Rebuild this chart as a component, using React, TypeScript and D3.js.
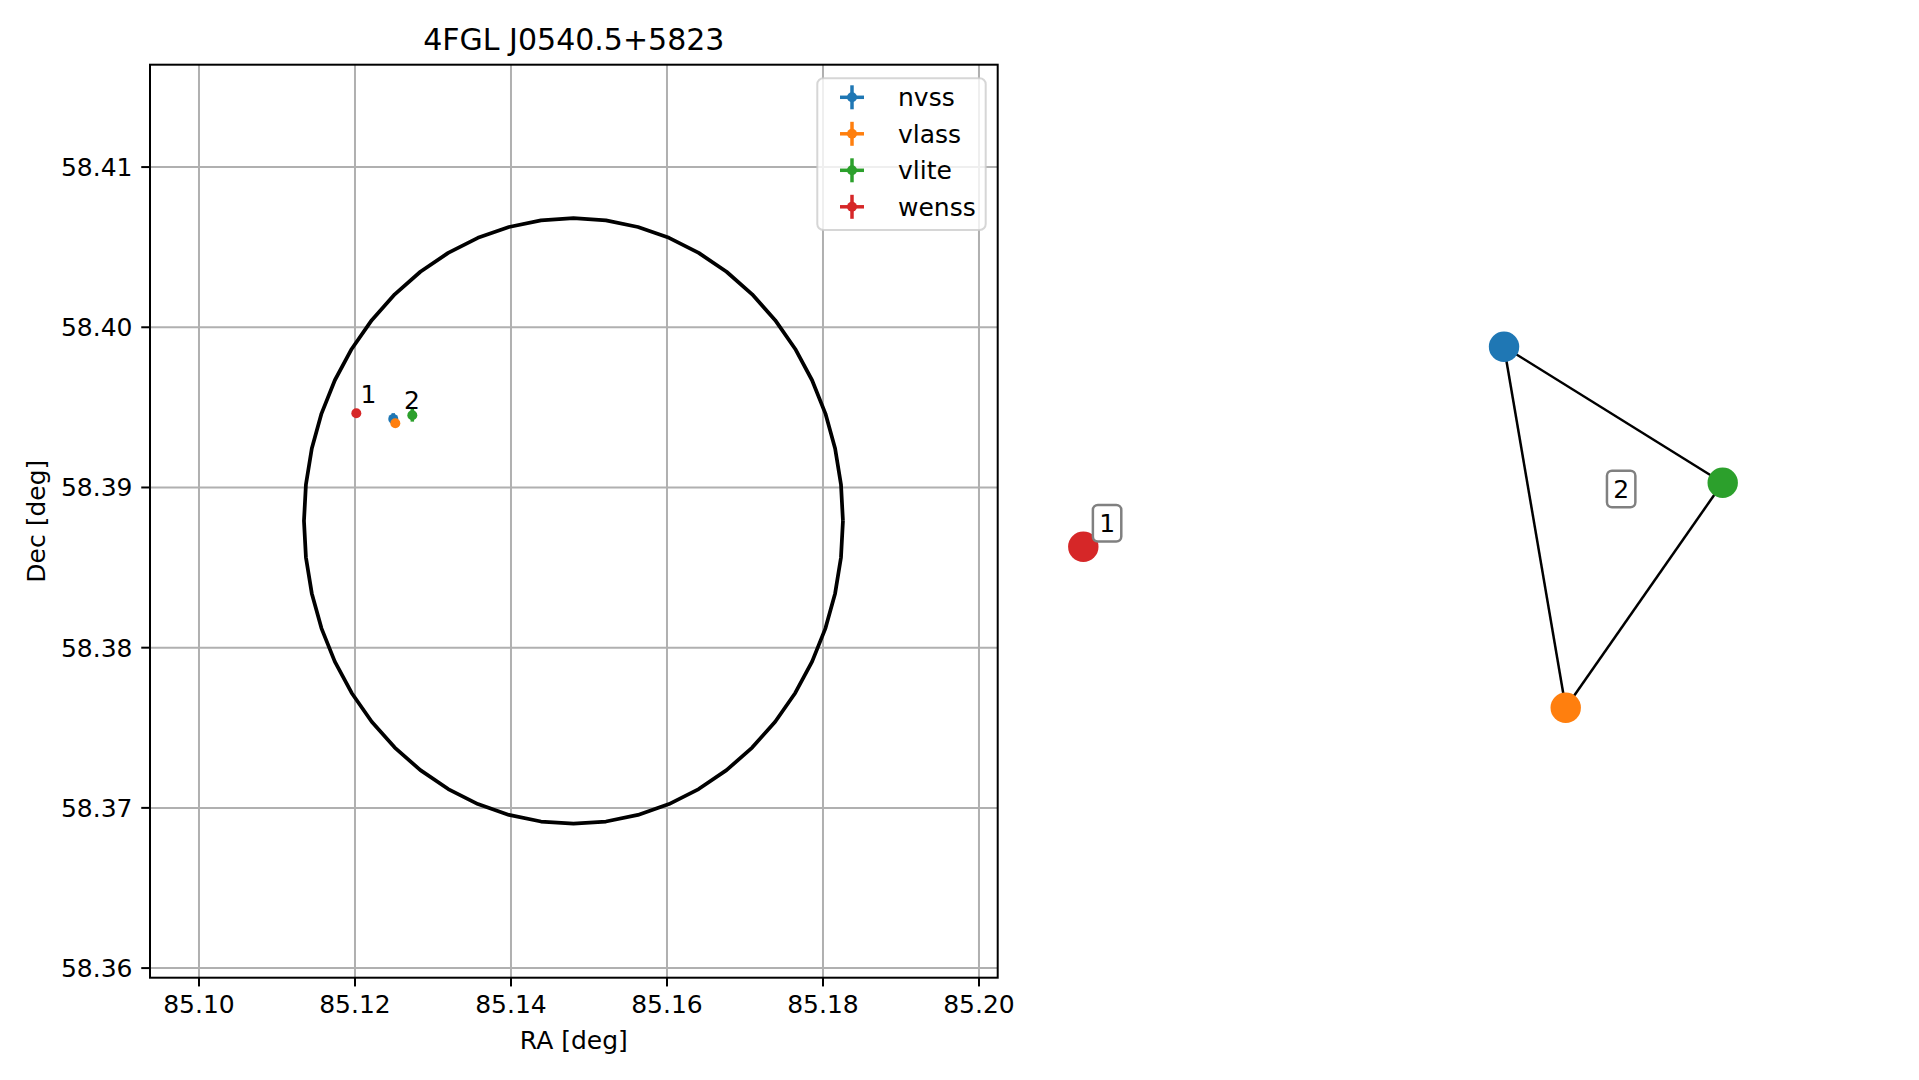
import React from 'react';
import * as d3 from 'd3';

// ---------- data ----------
const TITLE = '4FGL J0540.5+5823';
const X_LABEL = 'RA [deg]';
const Y_LABEL = 'Dec [deg]';

const surveys = ['nvss', 'vlass', 'vlite', 'wenss'];
const surveyColors = ['#1f77b4', '#ff7f0e', '#2ca02c', '#d62728'];
const srcRa = [85.12491, 85.12517, 85.12735, 85.12017];
const srcDec = [58.39428, 58.39401, 58.39451, 58.39463];
const srcRaErr = [0.0004, 0.0001, 0.0005, 0.0003];
const srcDecErr = [0.00036, 0.0001, 0.0004, 0.0002];

const groupLabels = ['1', '2'];
const groupLabelRa = [85.12072, 85.12628];
const groupLabelDec = [58.39529, 58.39487];

const xTicks = [85.1, 85.12, 85.14, 85.16, 85.18, 85.2];
const yTicks = [58.36, 58.37, 58.38, 58.39, 58.4, 58.41];
const xLim = [85.09372, 85.2024];
const yLim = [58.3594, 58.41639];

// uncertainty ellipse parameters
const ellCenterRa = 85.14801;
const ellCenterDec = 58.38791;
const ellSemiRa = 0.03455;
const ellSemiDec = 0.0189;
const ellSegments = 52;

// graph panel (layout coordinates)
const nodeNames = ['wenss', 'nvss', 'vlite', 'vlass'];
const nodeColors = ['#d62728', '#1f77b4', '#2ca02c', '#ff7f0e'];
const nodeX = [0, 0.658, 1, 0.7545];
const nodeY = [0.446, 1, 0.623, 0];
const edgesFrom = [1, 1, 2];
const edgesTo = [2, 3, 3];
const graphLabels = ['1', '2'];
const graphLabelX = [0.0372, 0.8412];
const graphLabelY = [0.511, 0.606];

// ---------- layout ----------
const W = 1919;
const H = 1080;
const AX = { left: 150, right: 997.7, top: 64.7, bottom: 977.7 };
const FONT = 'DejaVu Sans, Verdana, sans-serif';
const FS = 25;

export default function App() {
  const x = d3.scaleLinear().domain(xLim).range([AX.left, AX.right]);
  const y = d3.scaleLinear().domain(yLim).range([AX.bottom, AX.top]);

  const gx = d3.scaleLinear().domain([0, 1]).range([1083.3, 1722.7]);
  const gy = d3.scaleLinear().domain([0, 1]).range([707.7, 346.7]);

  const ellPts: [number, number][] = d3.range(ellSegments + 1).map((i) => {
    const t = (2 * Math.PI * i) / ellSegments;
    return [ellCenterRa + ellSemiRa * Math.cos(t), ellCenterDec + ellSemiDec * Math.sin(t)];
  });
  const line = d3
    .line<[number, number]>()
    .x((d) => x(d[0]))
    .y((d) => y(d[1]));

  const axMidX = (AX.left + AX.right) / 2;
  const axMidY = (AX.top + AX.bottom) / 2;

  const legX = 817.3;
  const legY = 78.3;
  const legW = 168.4;
  const legH = 151.7;
  const rowH = 36.5;
  const firstRow = 97.3;
  const handleX = 852;

  return (
    <svg
      width={W}
      height={H}
      style={{ position: 'absolute', left: 0, top: 0, background: '#fff' }}
      fontFamily={FONT}
    >
      <rect x={0} y={0} width={W} height={H} fill="#fff" />
      {/* grid */}
      <defs>
        <clipPath id="axclip">
          <rect x={AX.left} y={AX.top} width={AX.right - AX.left} height={AX.bottom - AX.top} />
        </clipPath>
      </defs>
      {xTicks.map((t) => (
        <line key={'gx' + t} x1={x(t)} x2={x(t)} y1={AX.top} y2={AX.bottom} stroke="#b0b0b0" strokeWidth={2} />
      ))}
      {yTicks.map((t) => (
        <line key={'gy' + t} x1={AX.left} x2={AX.right} y1={y(t)} y2={y(t)} stroke="#b0b0b0" strokeWidth={2} />
      ))}

      <g clipPath="url(#axclip)">
        <path d={line(ellPts) || ''} fill="none" stroke="#000" strokeWidth={3.75} strokeLinejoin="round" />
        {surveys.map((s, i) => (
          <g key={s}>
            <line
              x1={x(srcRa[i] - srcRaErr[i])}
              x2={x(srcRa[i] + srcRaErr[i])}
              y1={y(srcDec[i])}
              y2={y(srcDec[i])}
              stroke={surveyColors[i]}
              strokeWidth={3.5}
            />
            <line
              x1={x(srcRa[i])}
              x2={x(srcRa[i])}
              y1={y(srcDec[i] - srcDecErr[i])}
              y2={y(srcDec[i] + srcDecErr[i])}
              stroke={surveyColors[i]}
              strokeWidth={3.5}
            />
            <circle cx={x(srcRa[i])} cy={y(srcDec[i])} r={5} fill={surveyColors[i]} />
          </g>
        ))}
        {groupLabels.map((l, i) => (
          <text key={'gl' + l} x={x(groupLabelRa[i])} y={y(groupLabelDec[i])} fontSize={FS} fill="#000">
            {l}
          </text>
        ))}
      </g>

      {/* spines */}
      <rect
        x={AX.left}
        y={AX.top}
        width={AX.right - AX.left}
        height={AX.bottom - AX.top}
        fill="none"
        stroke="#000"
        strokeWidth={2}
      />

      {/* ticks */}
      {xTicks.map((t) => (
        <g key={'tx' + t}>
          <line x1={x(t)} x2={x(t)} y1={AX.bottom} y2={AX.bottom + 8.75} stroke="#000" strokeWidth={2} />
          <text x={x(t)} y={1013.3} textAnchor="middle" fontSize={FS} fill="#000">
            {t.toFixed(2)}
          </text>
        </g>
      ))}
      {yTicks.map((t) => (
        <g key={'ty' + t}>
          <line x1={AX.left - 8.75} x2={AX.left} y1={y(t)} y2={y(t)} stroke="#000" strokeWidth={2} />
          <text x={132.5} y={y(t) + 9} textAnchor="end" fontSize={FS} fill="#000">
            {t.toFixed(2)}
          </text>
        </g>
      ))}

      {/* labels */}
      <text x={axMidX} y={1049} textAnchor="middle" fontSize={FS} fill="#000">
        {X_LABEL}
      </text>
      <text
        x={0}
        y={0}
        transform={`translate(45,${axMidY}) rotate(-90)`}
        textAnchor="middle"
        fontSize={FS}
        fill="#000"
      >
        {Y_LABEL}
      </text>
      <text x={axMidX} y={50} textAnchor="middle" fontSize={30} fill="#000">
        {TITLE}
      </text>

      {/* legend */}
      <rect
        x={legX}
        y={legY}
        width={legW}
        height={legH}
        rx={6}
        ry={6}
        fill="#fff"
        fillOpacity={0.8}
        stroke="#cccccc"
        strokeOpacity={0.8}
        strokeWidth={2}
      />
      {surveys.map((s, i) => {
        const cy = firstRow + i * rowH;
        return (
          <g key={'leg' + s}>
            <line x1={handleX - 12} x2={handleX + 12} y1={cy} y2={cy} stroke={surveyColors[i]} strokeWidth={3.5} />
            <line x1={handleX} x2={handleX} y1={cy - 12} y2={cy + 12} stroke={surveyColors[i]} strokeWidth={3.5} />
            <circle cx={handleX} cy={cy} r={5} fill={surveyColors[i]} />
            <text x={898} y={cy + 9} fontSize={FS} fill="#000">
              {s}
            </text>
          </g>
        );
      })}

      {/* graph panel */}
      {edgesFrom.map((f, i) => (
        <line
          key={'e' + i}
          x1={gx(nodeX[f])}
          y1={gy(nodeY[f])}
          x2={gx(nodeX[edgesTo[i]])}
          y2={gy(nodeY[edgesTo[i]])}
          stroke="#000"
          strokeWidth={2.5}
        />
      ))}
      {nodeNames.map((n, i) => (
        <circle key={'n' + n} cx={gx(nodeX[i])} cy={gy(nodeY[i])} r={15.2} fill={nodeColors[i]} />
      ))}
      {graphLabels.map((l, i) => {
        const cx = gx(graphLabelX[i]);
        const cy = gy(graphLabelY[i]);
        return (
          <g key={'bl' + l}>
            <rect
              x={cx - 14.2}
              y={cy - 18.3}
              width={28.4}
              height={36.6}
              rx={5}
              ry={5}
              fill="#fff"
              stroke="#808080"
              strokeWidth={2.5}
            />
            <text x={cx} y={cy + 9} textAnchor="middle" fontSize={FS} fill="#000">
              {l}
            </text>
          </g>
        );
      })}
    </svg>
  );
}
